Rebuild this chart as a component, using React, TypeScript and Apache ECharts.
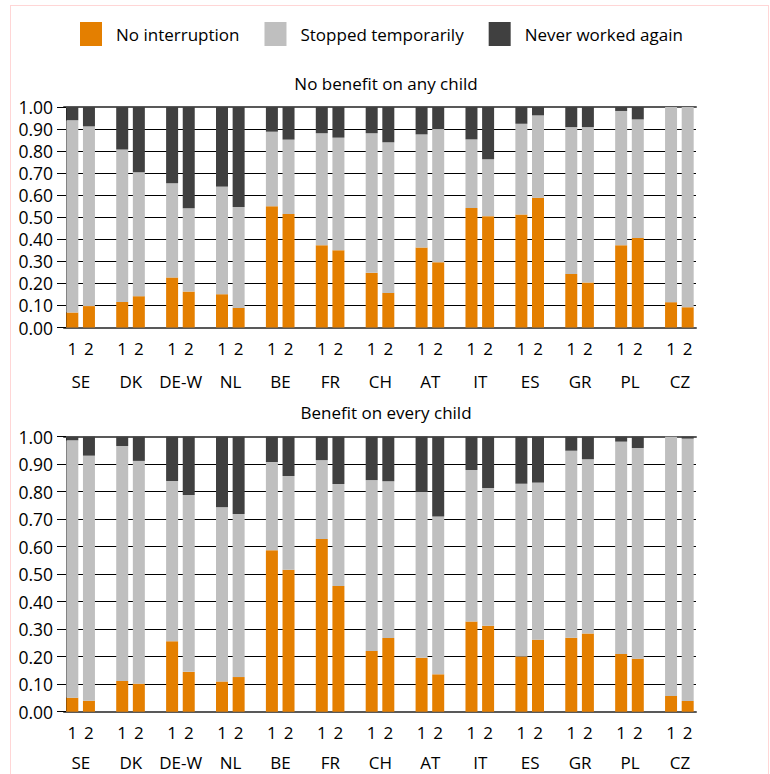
import React, { useEffect, useRef } from "react";
import * as echarts from "echarts";

const countries = ["SE", "DK", "DE-W", "NL", "BE", "FR", "CH", "AT", "IT", "ES", "GR", "PL", "CZ"];
const waves = ["1", "2"];
const seriesNames = ["No interruption", "Stopped temporarily", "Never worked again"];
const panelTitles = ["No benefit on any child", "Benefit on every child"];

// values in bar order: SE1, SE2, DK1, DK2, ...
const noBenefitNoInterruption = [
  0.068, 0.097, 0.116, 0.142, 0.227, 0.163, 0.151, 0.089, 0.55, 0.515, 0.373, 0.35, 0.248,
  0.157, 0.363, 0.296, 0.542, 0.505, 0.512, 0.588, 0.243, 0.204, 0.373, 0.406, 0.115, 0.092,
];
const noBenefitStopped = [
  0.872, 0.815, 0.691, 0.562, 0.427, 0.378, 0.488, 0.458, 0.338, 0.337, 0.508, 0.511, 0.633,
  0.683, 0.513, 0.604, 0.311, 0.258, 0.412, 0.374, 0.666, 0.705, 0.609, 0.538, 0.885, 0.908,
];
const noBenefitNever = [
  0.06, 0.088, 0.193, 0.296, 0.346, 0.459, 0.361, 0.453, 0.112, 0.148, 0.119, 0.139, 0.119,
  0.16, 0.124, 0.1, 0.147, 0.237, 0.076, 0.038, 0.091, 0.091, 0.018, 0.056, 0.0, 0.0,
];

const benefitNoInterruption = [
  0.051, 0.04, 0.112, 0.102, 0.256, 0.145, 0.11, 0.126, 0.587, 0.516, 0.628, 0.457, 0.221,
  0.268, 0.196, 0.136, 0.328, 0.313, 0.201, 0.262, 0.269, 0.284, 0.21, 0.193, 0.057, 0.039,
];
const benefitStopped = [
  0.936, 0.891, 0.854, 0.81, 0.583, 0.643, 0.634, 0.593, 0.321, 0.341, 0.287, 0.371, 0.621,
  0.57, 0.604, 0.574, 0.551, 0.5, 0.628, 0.571, 0.68, 0.634, 0.772, 0.766, 0.943, 0.954,
];
const benefitNever = [
  0.013, 0.069, 0.034, 0.088, 0.161, 0.212, 0.256, 0.281, 0.092, 0.143, 0.085, 0.172, 0.158,
  0.162, 0.2, 0.29, 0.121, 0.187, 0.171, 0.167, 0.051, 0.082, 0.018, 0.041, 0.0, 0.007,
];

const colors = ["#E47F00", "#BFBFBF", "#404040"];

function toSlots(vals: (number | string)[]): (number | string)[] {
  const out: (number | string)[] = [];
  countries.forEach((_, i) => {
    out.push(vals[i * 2], vals[i * 2 + 1]);
    if (i < countries.length - 1) out.push("-");
  });
  return out;
}

const slotLabels = toSlots(countries.flatMap(() => waves)).map((v) => (v === "-" ? "" : v)) as string[];

const FONT = "Open Sans";

export default function App() {
  const ref = useRef<HTMLDivElement>(null);
  useEffect(() => {
    if (!ref.current) return;
    const chart = echarts.init(ref.current, null, { renderer: "svg" });
    const panels = [
      { top: 107, height: 220.5, titleTop: 70, countryMargin: 45, data: [noBenefitNoInterruption, noBenefitStopped, noBenefitNever] },
      { top: 436.7, height: 275, titleTop: 398.5, countryMargin: 42, data: [benefitNoInterruption, benefitStopped, benefitNever] },
    ];
    const grid: any[] = [];
    const xAxis: any[] = [];
    const yAxis: any[] = [];
    const series: any[] = [];
    const title: any[] = [];
    panels.forEach((p, pi) => {
      const gMain = grid.length;
      grid.push({ left: 64, top: p.top, width: 632, height: p.height });
      const gLab = grid.length;
      grid.push({ left: 55.9, top: p.top, width: 649, height: p.height });
      const xMain = xAxis.length;
      xAxis.push({
        gridIndex: gMain,
        type: "category",
        data: slotLabels,
        axisLine: { lineStyle: { color: "#595959", width: 2 } },
        axisTick: { show: false },
        axisLabel: { interval: 0, fontSize: 17, lineHeight: 18, color: "#000", fontFamily: FONT, margin: 12 },
        splitLine: { show: false },
      });
      xAxis.push({
        gridIndex: gMain,
        type: "category",
        position: "top",
        data: slotLabels,
        axisLine: { lineStyle: { color: "#595959", width: 2 } },
        axisTick: { show: false },
        axisLabel: { show: false },
        splitLine: { show: false },
      });
      xAxis.push({
        gridIndex: gLab,
        type: "category",
        data: countries,
        axisLine: { show: false },
        axisTick: { show: false },
        axisLabel: { interval: 0, fontSize: 17, lineHeight: 18, color: "#000", fontFamily: FONT, margin: p.countryMargin },
        splitLine: { show: false },
      });
      const yMain = yAxis.length;
      yAxis.push({
        gridIndex: gMain,
        type: "value",
        min: 0,
        max: 1,
        interval: 0.1,
        offset: -2,
        axisLine: { show: true, lineStyle: { color: "#000", width: 1 } },
        axisTick: { show: true, length: 9, lineStyle: { color: "#000", width: 1 } },
        axisLabel: {
          fontSize: 17.5,
          color: "#000",
          fontFamily: FONT,
          margin: 13,
          formatter: (v: number) => v.toFixed(2),
        },
        splitLine: { show: true, lineStyle: { color: "#000", width: 1 } },
      });
      yAxis.push({ gridIndex: gLab, type: "value", min: 0, max: 1, show: false });
      p.data.forEach((vals, si) => {
        series.push({
          type: "bar",
          name: seriesNames[si],
          stack: "panel" + pi,
          xAxisIndex: xMain,
          yAxisIndex: yMain,
          barWidth: 12,
          itemStyle: { color: colors[si] },
          data: toSlots(vals),
        });
      });
      title.push({
        text: panelTitles[pi],
        left: 381,
        textAlign: "center",
        top: p.titleTop,
        textStyle: { fontSize: 17, fontWeight: "normal", color: "#000", fontFamily: FONT },
      });
    });
    chart.setOption({
      animation: false,
      backgroundColor: "#fff",
      textStyle: { fontFamily: FONT },
      title,
      legend: {
        data: seriesNames,
        left: 75,
        top: 17,
        icon: "rect",
        itemWidth: 22,
        itemHeight: 24,
        itemGap: 25,
        textStyle: { fontSize: 17, color: "#000", fontFamily: FONT, padding: [0, 0, 0, 9] },
      },
      grid,
      xAxis,
      yAxis,
      series,
    });
    return () => chart.dispose();
  }, []);
  return (
    <div style={{ position: "fixed", left: 0, top: 0, width: 770, height: 774, background: "#fff" }}>
      <div ref={ref} style={{ position: "absolute", left: 0, top: 0, width: 770, height: 774 }} />
      <div
        style={{
          position: "absolute",
          left: 10,
          top: 5,
          width: 757,
          height: 790,
          border: "1px solid #FFD6D6",
          pointerEvents: "none",
        }}
      />
    </div>
  );
}
